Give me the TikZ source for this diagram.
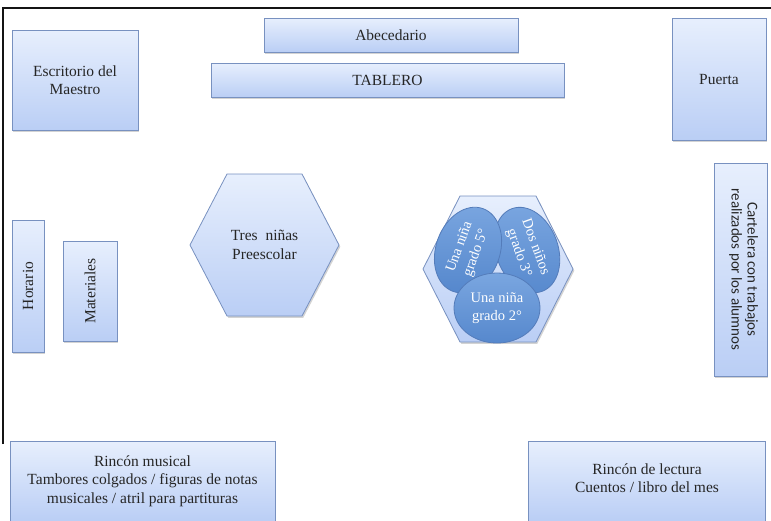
\documentclass[tikz,border=0pt]{standalone}
\usepackage{fontspec}
\setmainfont{Liberation Serif}
\newfontfamily\cartelfont{Carlito}
\usetikzlibrary{shapes.geometric,shadows}

\definecolor{boxtop}{RGB}{231,239,253}
\definecolor{boxbot}{RGB}{186,206,245}
\definecolor{boxline}{RGB}{120,145,192}
\definecolor{ovaltop}{RGB}{122,166,224}
\definecolor{ovalbot}{RGB}{86,136,205}
\definecolor{ovalline}{RGB}{84,124,186}
\definecolor{frameline}{RGB}{20,20,20}

\tikzset{
  furniture/.style={draw=boxline, line width=0.8pt,
    top color=boxtop, bottom color=boxbot,
    drop shadow={shadow xshift=1.3pt, shadow yshift=-1.8pt, opacity=0.35},
    align=center, inner sep=0pt},
  roomtext/.style={align=center, inner sep=0pt, text=black!85,
    font=\fontsize{15.5}{18.5}\selectfont},
  oval/.style={ellipse, draw=ovalline, line width=0.8pt,
    top color=ovaltop, bottom color=ovalbot, inner sep=0pt,
    text=white, align=center, font=\fontsize{14.5}{17.5}\selectfont},
  frame/.style={draw=frameline, line width=1.3pt}
}

\begin{document}
\begin{tikzpicture}[x=1pt,y=-1pt]
\useasboundingbox (0,0) rectangle (771,520);

% room outline (top and left walls)
\coordinate (wallA) at (3,444);
\coordinate (wallB) at (3,8);
\coordinate (wallC) at (771,8);
\draw[frame] (wallA) -- (wallB) -- (wallC);

% furniture along the walls
\node[furniture, minimum width=126pt, minimum height=100pt] (desk) at (75,80) {};
\node[roomtext] (deskT) at (desk.center) {Escritorio del\\Maestro};

\node[furniture, minimum width=254pt, minimum height=34pt] (abc) at (391,35) {};
\node[roomtext] (abcT) at (abc.center) {Abecedario};

\node[furniture, minimum width=353pt, minimum height=34pt] (board) at (387.5,80) {};
\node[roomtext] (boardT) at (board.center) {TABLERO};

\node[furniture, minimum width=94pt, minimum height=122pt] (door) at (719,79) {};
\node[roomtext] (doorT) at (door.center) {Puerta};

\node[furniture, minimum width=32pt, minimum height=132pt] (sched) at (28,286) {};
\node[roomtext, rotate=90] (schedT) at (sched.center) {Horario};

\node[furniture, minimum width=54pt, minimum height=100pt] (mat) at (90,291) {};
\node[roomtext, rotate=90] (matT) at (mat.center) {Materiales};

\node[furniture, minimum width=53pt, minimum height=213pt] (board2) at (740.5,269.5) {};
\node[align=center, inner sep=0pt, rotate=-90, text=black!85,
      font=\cartelfont\fontsize{15}{16}\selectfont] (board2T) at (743.5,269.5)
  {Cartelera con trabajos\\realizados por los alumnos};

\node[furniture, minimum width=265pt, minimum height=80pt] (music) at (142.5,481) {};
\node[roomtext] (musicT) at (music.center)
  {Rincón musical\\Tambores colgados / figuras de notas\\musicales / atril para partituras};

\node[furniture, minimum width=237pt, minimum height=80pt] (read) at (646.5,481) {};
\node[roomtext] (readT) at (647,478) {Rincón de lectura\\Cuentos / libro del mes};

% preschool table
\path[furniture] (190,245) -- (227,174) -- (302,174) -- (339,245)
  -- (302,316) -- (227,316) -- cycle;
\node[roomtext] (pre) at (264.5,245) {Tres\enspace niñas\\Preescolar};

% shared table for the older pupils
\path[furniture] (423,269) -- (460,196) -- (536,196) -- (573,269)
  -- (536,342) -- (460,342) -- cycle;
\node[oval, minimum width=88pt, minimum height=62pt, rotate=-70] (third) at (527,250)
  {Dos niños\\grado 3°};
\node[oval, minimum width=88pt, minimum height=64pt, rotate=70] (fifth) at (468,250)
  {Una niña\\grado 5°};
\node[oval, minimum width=86pt, minimum height=70pt] (second) at (497,308)
  {Una niña\\grado 2°};
\end{tikzpicture}
\end{document}
